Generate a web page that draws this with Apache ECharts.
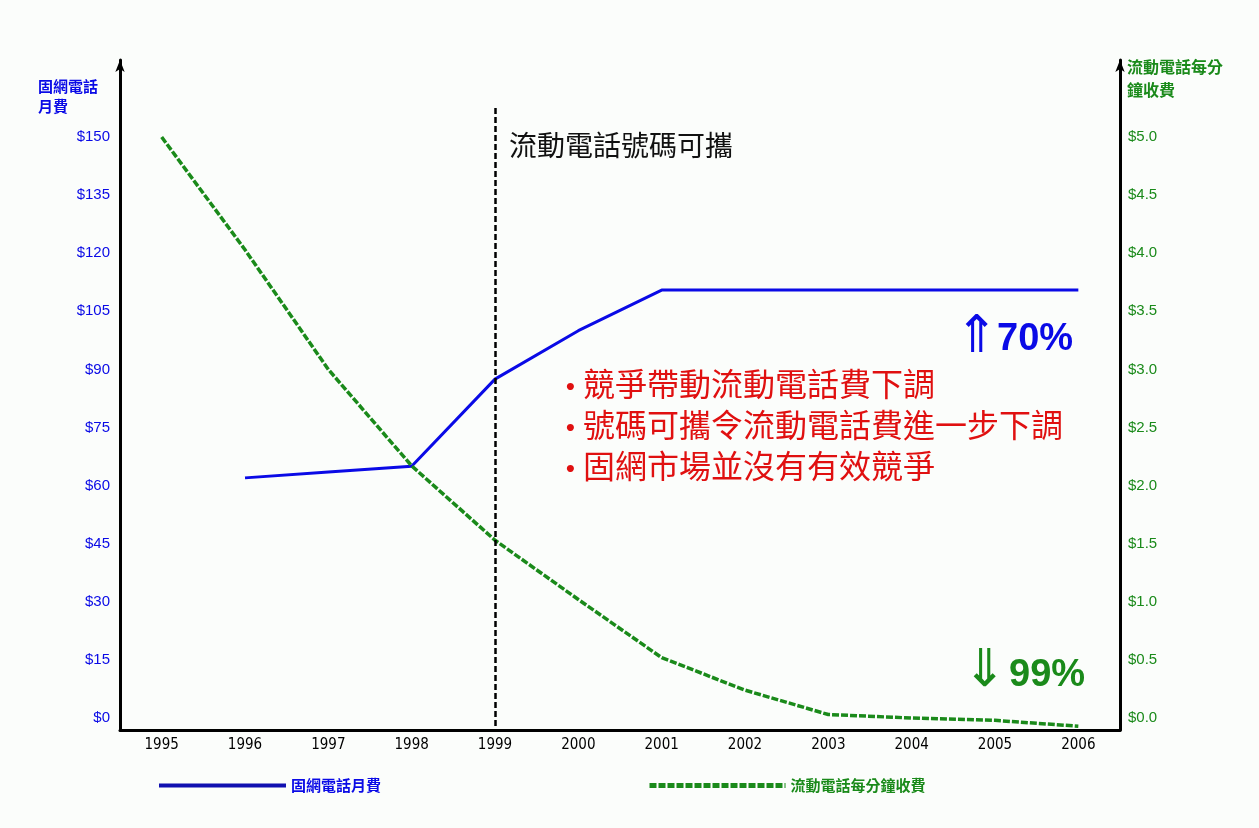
<!DOCTYPE html>
<html>
<head>
<meta charset="utf-8">
<script src="https://cdn.jsdelivr.net/npm/echarts@6/dist/echarts.min.js"></script>
<style>html,body{margin:0;padding:0;background:#fbfdfb;}#c{width:1259px;height:828px;}</style>
</head>
<body>
<div id="c"></div>
<script>
const years = ['1995','1996','1997','1998','1999','2000','2001','2002','2003','2004','2005','2006'];
const fixedFee = [null, 62, 63.5, 65, 87.5, 100, 110.5, 110.5, 110.5, 110.5, 110.5, 110.5];
const mobileRate = [5.0, 4.03, 3.0, 2.17, 1.53, 1.02, 0.52, 0.24, 0.03, 0.0, -0.02, -0.07];
const leftTicks = [0, 15, 30, 45, 60, 75, 90, 105, 120, 135, 150];
const rightTicks = [0, 0.5, 1.0, 1.5, 2.0, 2.5, 3.0, 3.5, 4.0, 4.5, 5.0];
const seriesNames = ['固網電話月費', '流動電話每分鐘收費'];
const bullets = ['競爭帶動流動電話費下調', '號碼可攜令流動電話費進一步下調', '固網市場並沒有有效競爭'];

const CJK = '"Noto Sans CJK TC", "Noto Sans CJK SC", sans-serif';
const BLUE = '#0a0ae6';
const GREEN = '#1a8a1a';

const chart = echarts.init(document.getElementById('c'));
chart.setOption({
  backgroundColor: '#fbfdfb',
  animation: false,
  grid: { left: 120, right: 139, top: 60, bottom: 98 },
  xAxis: {
    type: 'category',
    data: years,
    boundaryGap: true,
    axisLine: { onZero: false, lineStyle: { color: '#000', width: 3 } },
    axisTick: { show: false },
    axisLabel: { color: '#000', fontSize: 15, fontFamily: '"Liberation Sans Narrow", "DejaVu Sans Condensed", Arial, sans-serif', margin: 8 },
    splitLine: { show: false }
  },
  yAxis: [{
    type: 'value',
    min: -3.1, max: 169.9,
    position: 'left',
    axisLine: { show: true, symbol: ['none', 'arrow'], symbolSize: [7, 12], lineStyle: { color: '#000', width: 3 } },
    axisTick: { show: false },
    splitLine: { show: false },
    axisLabel: { customValues: leftTicks, formatter: v => '$' + v, color: BLUE, fontSize: 15, fontFamily: 'Arial, "Liberation Sans", sans-serif', margin: 10 }
  }, {
    type: 'value',
    min: -0.103, max: 5.663,
    position: 'right',
    axisLine: { show: true, symbol: ['none', 'arrow'], symbolSize: [7, 12], lineStyle: { color: '#000', width: 3 } },
    axisTick: { show: false },
    splitLine: { show: false },
    axisLabel: { customValues: rightTicks, formatter: v => '$' + v.toFixed(1), color: GREEN, fontSize: 15, fontFamily: 'Arial, "Liberation Sans", sans-serif', margin: 8 }
  }],
  legend: [{
    data: [seriesNames[0]], left: 152, top: 773, itemWidth: 127, itemHeight: 10, itemGap: 10,
    itemStyle: { opacity: 0 },
    lineStyle: { width: 4, color: '#1010b0' },
    textStyle: { color: BLUE, fontSize: 15, fontWeight: 'bold', fontFamily: CJK }
  }, {
    data: [seriesNames[1]], left: 642, top: 773, itemWidth: 136, itemHeight: 10,
    itemStyle: { opacity: 0 },
    lineStyle: { width: 5 },
    textStyle: { color: GREEN, fontSize: 15, fontWeight: 'bold', fontFamily: CJK }
  }],
  series: [{
    name: seriesNames[0],
    type: 'line',
    yAxisIndex: 0,
    data: fixedFee,
    symbol: 'none',
    lineStyle: { color: BLUE, width: 3 },
    itemStyle: { color: BLUE },
    markLine: {
      silent: true, symbol: 'none', label: { show: false },
      lineStyle: { color: '#000', type: [6, 3], width: 2.5 },
      data: [[{ coord: ['1999', 157.5] }, { coord: ['1999', -3.1] }]]
    }
  }, {
    name: seriesNames[1],
    type: 'line',
    yAxisIndex: 1,
    data: mobileRate,
    symbol: 'none',
    lineStyle: { color: GREEN, width: 3.5, type: [7, 2] },
    itemStyle: { color: GREEN }
  }],
  graphic: [
    { type: 'text', left: 38, top: 76, style: { text: '固網電話\n月費', fill: BLUE, font: 'bold 15px ' + CJK, lineHeight: 20 } },
    { type: 'text', left: 1127, top: 55, style: { text: '流動電話每分\n鐘收費', fill: GREEN, font: 'bold 16px ' + CJK, lineHeight: 23 } },
    { type: 'text', left: 509, top: 131, style: { text: '流動電話號碼可攜', fill: '#111', font: '28px ' + CJK } },
    { type: 'text', left: 564, top: 368, style: { text: '•\n•\n•', fill: '#e01010', font: 'bold 20px "DejaVu Sans", sans-serif', lineHeight: 41 } },
    { type: 'text', left: 583, top: 363, style: { text: bullets.join('\n'), fill: '#e01010', font: '32px ' + CJK, lineHeight: 41 } },
    { type: 'text', left: 955, top: 312, style: { text: '⇑', fill: BLUE, font: '52px "DejaVu Sans", sans-serif' } },
    { type: 'text', left: 997, top: 321, style: { text: '70%', fill: BLUE, font: 'bold 38px Arial, "Liberation Sans", sans-serif' } },
    { type: 'text', left: 963, top: 646, style: { text: '⇓', fill: GREEN, font: '52px "DejaVu Sans", sans-serif' } },
    { type: 'text', left: 1009, top: 657, style: { text: '99%', fill: GREEN, font: 'bold 38px Arial, "Liberation Sans", sans-serif' } }
  ]
});
</script>
</body>
</html>
